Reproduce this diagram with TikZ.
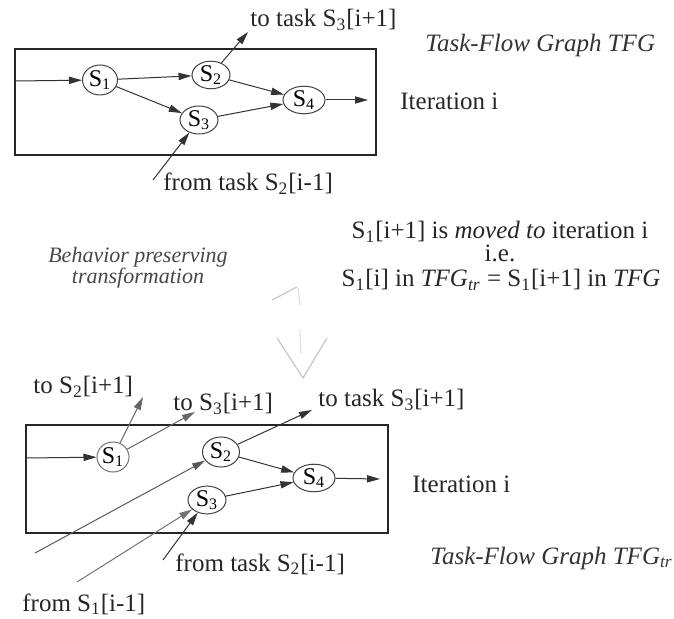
\documentclass[tikz,border=0pt]{standalone}
\usepackage{fontspec}
\setmainfont{Liberation Serif}
\usetikzlibrary{shapes.geometric,arrows.meta}
\begin{document}
\begin{tikzpicture}[x=0.5pt,y=-0.5pt,
  task/.style={ellipse,draw=black!75,line width=0.5pt,inner sep=0pt,font=\fontsize{12}{14}\selectfont},
  flow/.style={draw=black!80,line width=0.5pt,-{Triangle[length=6.5pt,width=3.6pt]}},
  frame/.style={draw=black!85,line width=0.75pt},
  lbl/.style={font=\fontsize{12.5}{15}\selectfont,text=black!85,inner sep=0pt},
  title/.style={font=\itshape\fontsize{12.5}{15}\selectfont,text=black!80,inner sep=0pt},
  ghost/.style={draw=black!22,line width=0.6pt}]
\useasboundingbox (0,0) rectangle (674,619);

% ---------- original task-flow graph ----------
\draw[frame] (15,49) rectangle (376,155);
\node[task,minimum width=17.5pt,minimum height=15pt] (a1) at (100,80) {S\textsubscript{1}};
\node[task,minimum width=19pt,minimum height=13pt] (a2) at (211,75) {S\textsubscript{2}};
\node[task,minimum width=19pt,minimum height=14pt] (a3) at (199,120) {S\textsubscript{3}};
\node[task,minimum width=21pt,minimum height=12.5pt] (a4) at (304,100) {S\textsubscript{4}};
\coordinate (ain) at (15,81);
\coordinate (aout) at (368,100);
\coordinate (aup) at (248,32);
\coordinate (afrom) at (153,180);
\draw[flow] (ain) -- (a1);
\draw[flow] (a1) -- (a2);
\draw[flow] (a1) -- (a3);
\draw[flow] (a2) -- (a4);
\draw[flow] (a3) -- (a4);
\draw[flow] (a4) -- (aout);
\draw[flow] (a2) -- (aup);
\draw[flow] (afrom) -- (a3);
\node[lbl,anchor=west] (atxt1) at (250,20) {to task S\textsubscript{3}[i+1]};
\node[lbl,anchor=west] (atxt2) at (163,184) {from task S\textsubscript{2}[i-1]};
\node[title,anchor=west] (atitle) at (425,45) {Task-Flow Graph \textit{TFG}};
\node[lbl,anchor=west] (aiter) at (400,101) {Iteration i};

% ---------- transformation ----------
\node[align=center,inner sep=0pt,font=\itshape\fontsize{11}{10.5}\selectfont,text=black!72] (bpt) at (138,268) {Behavior preserving\\transformation};
\node[lbl,anchor=base] (mv) at (500,239) {S\textsubscript{1}[i+1] is \textit{moved to} iteration i};
\node[lbl,anchor=base] (ie) at (500,262) {i.e.};
\node[lbl,anchor=base] (eq) at (501,287) {S\textsubscript{1}[i] in \textit{TFG}\textsubscript{\textit{tr}} = S\textsubscript{1}[i+1] in \textit{TFG}};
% faint hollow arrow
\draw[ghost] (272,300) -- (297,287);
\draw[ghost,draw=black!12] (298,288) -- (300,305);
\draw[ghost,draw=black!12] (300,330) -- (301,353);
\draw[ghost] (277,338) -- (303,378) -- (327,338);

% ---------- transformed task-flow graph ----------
\draw[frame] (26,425) rectangle (388,533);
\node[task,draw=black!55,minimum width=16pt,minimum height=15pt] (b1) at (113,457) {S\textsubscript{1}};
\node[task,minimum width=18.5pt,minimum height=15pt] (b2) at (221,452) {S\textsubscript{2}};
\node[task,minimum width=19pt,minimum height=13pt] (b3) at (207,500) {S\textsubscript{3}};
\node[task,minimum width=21pt,minimum height=13pt] (b4) at (314,478) {S\textsubscript{4}};
\coordinate (bin) at (26,458);
\coordinate (bout) at (380,479);
\coordinate (bup1) at (143,397);
\coordinate (bup2) at (195,412);
\coordinate (bup3) at (312,410);
\coordinate (bfa) at (35,553);
\coordinate (bfb) at (77,582);
\coordinate (bfc) at (163,560);
\draw[flow] (bin) -- (b1);
\draw[flow] (b2) -- (b4);
\draw[flow] (b3) -- (b4);
\draw[flow] (b4) -- (bout);
\draw[flow,draw=black!60] (b1) -- (bup1);
\draw[flow,draw=black!60] (b1) -- (bup2);
\draw[flow] (b2) -- (bup3);
\draw[flow,draw=black!65] (bfa) -- (b2);
\draw[flow,draw=black!55] (bfb) -- (b3);
\draw[flow] (bfc) -- (b3);
\node[lbl,anchor=west] (btxt1) at (33,387) {to S\textsubscript{2}[i+1]};
\node[lbl,anchor=west] (btxt2) at (173,404) {to S\textsubscript{3}[i+1]};
\node[lbl,anchor=west] (btxt3) at (318,400) {to task S\textsubscript{3}[i+1]};
\node[lbl,anchor=west] (btxt4) at (175,564) {from task S\textsubscript{2}[i-1]};
\node[lbl,anchor=west] (btxt5) at (22,604) {from S\textsubscript{1}[i-1]};
\node[lbl,anchor=west] (biter) at (412,484) {Iteration i};
\node[title,anchor=west] (btitle) at (430,558) {Task-Flow Graph \textit{TFG}\textsubscript{\textit{tr}}};
\end{tikzpicture}
\end{document}
